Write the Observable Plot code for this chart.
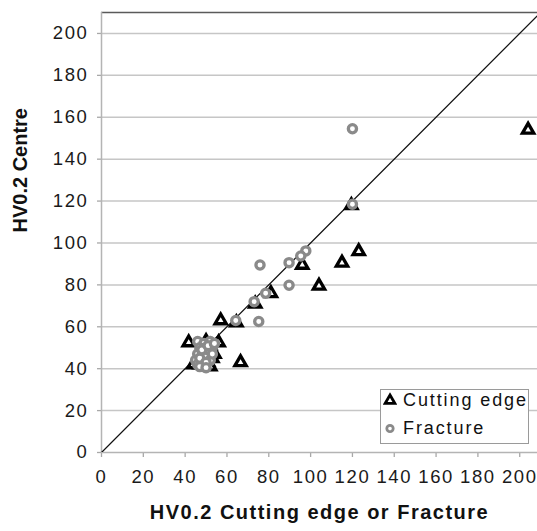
<!DOCTYPE html>
<html>
<head>
<meta charset="utf-8">
<script src="https://cdn.jsdelivr.net/npm/d3@7"></script>
<script src="https://cdn.jsdelivr.net/npm/@observablehq/plot@0.6"></script>
<style>
  body { margin: 0; background: #fff; }
  #chart { position: relative; width: 537px; height: 531px; overflow: hidden; font-family: "Liberation Sans", Arial, sans-serif; }
  #chart svg text { font-family: "Liberation Sans", Arial, sans-serif; }
  #chart g[aria-label$="tick label"] text { letter-spacing: 1.6px; fill: #1a1a1a; }
  #chart g[aria-label$="axis tick"] path { stroke: #a8a8a8; stroke-width: 1.3; }
  #chart .tick line { stroke: #a8a8a8; }
  #chart .domain { display: none; }
  #legend { position: absolute; left: 380px; top: 389px; width: 149px; height: 55px; box-sizing: border-box;
            border: 1.3px solid #9a9a9a; background: #fff; }
  #legend .row { position: absolute; left: 0; height: 20px; display: flex; align-items: center; white-space: nowrap;
                 font-size: 18px; letter-spacing: 1.9px; color: #111; }
  #legend svg { margin-left: 2px; margin-right: 6px; flex: none; }
</style>
</head>
<body>
<div id="chart"></div>
<script>
// ---- data ----
const xTicks = [0, 20, 40, 60, 80, 100, 120, 140, 160, 180, 200];
const yTicks = [0, 20, 40, 60, 80, 100, 120, 140, 160, 180, 200];
const xDomain = [0, 208.5];
const yDomain = [0, 210];
const refLine = [0, 210];   // y = x reference line

const seriesNames = ["Cutting edge", "Fracture"];

const cuttingX = [204, 123, 115, 104, 96, 119.5, 81, 73.5, 64.5, 57, 66.5, 41.7, 56, 52, 49, 53, 47, 44, 51, 50, 54, 52];
const cuttingY = [154, 96, 90.5, 79.5, 89.5, 118, 76, 71, 62, 63, 43, 52.5, 52.5, 51, 48, 45, 42, 42, 43, 53, 47, 41];

const fractureX = [120, 120, 97.7, 95.3, 89.7, 75.8, 89.7, 78.5, 73, 64.2, 75.2, 46, 49, 52, 46, 48, 45, 46, 48, 50, 51, 47, 53, 49, 52, 47, 50, 53, 48, 51, 54, 47, 50];
const fractureY = [154.5, 118.5, 96.2, 93.8, 90.6, 89.5, 79.8, 76, 72, 63, 62.5, 53, 52, 53, 47, 46, 44, 42, 43, 46, 49, 50, 50, 41, 44, 45, 43, 47, 49, 51, 52, 41, 40.5];

const xTitle = "HV0.2 Cutting edge or Fracture";
const yTitle = "HV0.2 Centre";

// ---- build ----
const cutting = cuttingX.map((x, i) => ({x, y: cuttingY[i]}));
const fracture = fractureX.map((x, i) => ({x, y: fractureY[i]}));
const diag = refLine.map(v => ({v}));

const plot = Plot.plot({
  width: 537,
  height: 531,
  marginLeft: 101,
  marginRight: 0,
  marginTop: 12,
  marginBottom: 79,
  style: {fontFamily: "Liberation Sans, Arial, sans-serif", fontSize: "18.5px", background: "white", color: "#1a1a1a"},
  x: {domain: xDomain, ticks: xTicks, tickSize: 5, tickPadding: 12, label: null, tickFormat: d => String(d)},
  y: {domain: yDomain, ticks: yTicks, tickSize: 4, tickPadding: 9, label: null, tickFormat: d => String(d)},
  marks: [
    Plot.ruleY(yTicks.filter(d => d > 0), {stroke: "#c6c6c6", strokeWidth: 1.5}),
    Plot.ruleY([yDomain[1]], {stroke: "#5a5a5a", strokeWidth: 1.5}),
    Plot.ruleX([0], {stroke: "#b4b4b4", strokeWidth: 1.5}),
    Plot.ruleY([0], {stroke: "#b4b4b4", strokeWidth: 1.5}),
    Plot.line(diag, {x: "v", y: "v", stroke: "#111", strokeWidth: 1.3, clip: true}),
    Plot.dot(cutting, {x: "x", y: "y", symbol: "triangle", r: 4.2, stroke: "#000", fill: "white", strokeWidth: 3.3}),
    Plot.dot(fracture, {x: "x", y: "y", symbol: "circle", r: 4.1, stroke: "#8a8a8a", fill: "white", strokeWidth: 3.3}),
    Plot.text([yTitle], {frameAnchor: "left", dx: -81, rotate: -90, fontSize: 20, fontWeight: "bold", fill: "#111"}),
    Plot.text([xTitle], {frameAnchor: "bottom", dy: 66, fontSize: 20, fontWeight: "bold", fill: "#111"})
  ]
});

const chart = document.getElementById("chart");
chart.appendChild(plot);
// x-title letter spacing
d3.select(plot).selectAll("text").filter(function() { return this.textContent === xTitle; })
  .style("letter-spacing", "1.5px");

// ---- legend (HTML overlay) ----
const legend = d3.select(chart).append("div").attr("id", "legend");
const rows = [
  {name: seriesNames[0], sym: d3.symbolTriangle, stroke: "#000"},
  {name: seriesNames[1], sym: d3.symbolCircle, stroke: "#8a8a8a"}
];
rows.forEach((r, i) => {
  const row = legend.append("div").attr("class", "row").style("top", (i === 0 ? 0 : 28) + "px");
  const s = row.append("svg").attr("width", 14).attr("height", 16);
  s.append("path")
    .attr("transform", "translate(7,8.5)")
    .attr("d", d3.symbol(r.sym, i === 0 ? 40 : 32)())
    .attr("fill", "white").attr("stroke", r.stroke).attr("stroke-width", 2.8);
  row.append("span").text(r.name);
});
</script>
</body>
</html>
